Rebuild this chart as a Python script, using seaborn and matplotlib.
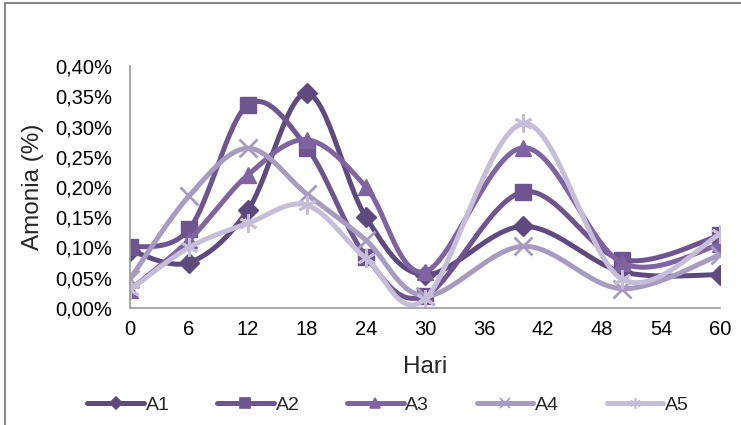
import numpy as np
import pandas as pd
import seaborn as sns
import matplotlib.pyplot as plt
from matplotlib.lines import Line2D
from matplotlib.ticker import FuncFormatter

# --- data ---
hari = [0, 6, 12, 18, 24, 30, 40, 50, 60]
a1 = [0.095, 0.075, 0.162, 0.355, 0.150, 0.055, 0.135, 0.060, 0.055]
a2 = [0.100, 0.130, 0.336, 0.265, 0.085, 0.020, 0.192, 0.080, 0.120]
a3 = [0.030, 0.112, 0.220, 0.278, 0.200, 0.060, 0.265, 0.075, 0.105]
a4 = [0.048, 0.185, 0.264, 0.188, 0.112, 0.020, 0.102, 0.032, 0.088]
a5 = [0.030, 0.100, 0.140, 0.170, 0.082, 0.015, 0.305, 0.048, 0.122]
series_names = ['A1', 'A2', 'A3', 'A4', 'A5']
x_ticks = [0, 6, 12, 18, 24, 30, 36, 42, 48, 54, 60]

colors = ['#5f4a7f', '#6e5590', '#8064a2', '#a89bc1', '#c6bdd8']
markers = ['D', 's', '^', 'x', (6, 2, 0)]
msizes = [10, 11, 11, 13, 13]


def smooth(xs, ys, sx=9.83, sy=605.0, n=30):
    """Excel-like smoothed line (Bezier through points, done in screen-ish space)."""
    p = np.column_stack([np.asarray(xs) * sx, np.asarray(ys) * sy])
    out = []
    for i in range(len(p) - 1):
        p0 = p[i - 1] if i > 0 else p[i]
        p1, p2 = p[i], p[i + 1]
        p3 = p[i + 2] if i + 2 < len(p) else p[i + 1]
        c1 = p1 + (p2 - p0) / 6.0
        c2 = p2 - (p3 - p1) / 6.0
        t = np.linspace(0, 1, n)[:, None]
        seg = ((1 - t) ** 3) * p1 + 3 * ((1 - t) ** 2) * t * c1 + 3 * (1 - t) * t ** 2 * c2 + t ** 3 * p2
        out.append(seg if i == 0 else seg[1:])
    out = np.vstack(out)
    return out[:, 0] / sx, out[:, 1] / sy


sns.set_theme(style='white')
plt.rcParams['font.family'] = ['Liberation Sans', 'DejaVu Sans']

fig = plt.figure(figsize=(7.41, 4.25), dpi=100)
ax = fig.add_axes([0.1754, 0.2753, 0.7963, 0.5694])

all_series = [a1, a2, a3, a4, a5]
for name, vals, c, m, ms in zip(series_names, all_series, colors, markers, msizes):
    cx, cy = smooth(hari, vals)
    sns.lineplot(x=cx, y=cy, ax=ax, color=c, lw=3.6, sort=False, estimator=None)
    pts = pd.DataFrame({'hari': hari, 'nilai': vals})
    ax.plot(pts['hari'], pts['nilai'], ls='none', marker=m, ms=ms, color=c,
            mec=c, mew=2.0 if m in ('x', (6, 2, 0)) else 1.0)

ax.set_xlim(0, 60)
ax.set_ylim(0, 0.40)
ax.set_xticks(x_ticks)
ax.set_yticks(np.arange(0, 0.401, 0.05))
ax.yaxis.set_major_formatter(FuncFormatter(lambda v, _: f'{v:.2f}%'.replace('.', ',')))
ax.tick_params(axis='both', labelsize=14.5, colors='black', length=0)
ax.tick_params(axis='y', pad=13)
ax.tick_params(axis='x', pad=9)
for s in ['top', 'right']:
    ax.spines[s].set_visible(False)
for s in ['left', 'bottom']:
    ax.spines[s].set_color('#9a9a9a')
    ax.spines[s].set_linewidth(1.2)
ax.set_xlabel('Hari', fontsize=17.5, labelpad=12)
ax.set_ylabel('Amonia (%)', fontsize=17.5, labelpad=8)

handles = [Line2D([0], [0], color=c, lw=3.6, marker=m, ms=ms * 0.6, mew=1.2)
           for c, m, ms in zip(colors, markers, msizes)]
fig.legend(handles, series_names, loc='center', bbox_to_anchor=(0.524, 0.047), ncol=5,
           frameon=False, fontsize=14, handlelength=2.9, handletextpad=0.1,
           columnspacing=2.45)

# chart frame (top and left edges visible in the reference)
fig.add_artist(Line2D([0.007, 1.0], [0.993, 0.993], color='#8a8a8a', lw=1.5, transform=fig.transFigure))
fig.add_artist(Line2D([0.007, 0.007], [0.0, 0.993], color='#8a8a8a', lw=1.5, transform=fig.transFigure))

fig.savefig('out.png', dpi=100)
